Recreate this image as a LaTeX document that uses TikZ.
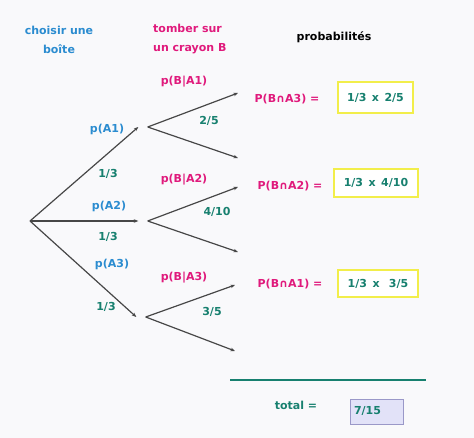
\documentclass[tikz,border=0pt]{standalone}
\usepackage{fontspec}
\setmainfont{DejaVu Sans}
\usetikzlibrary{arrows.meta, positioning}
\definecolor{boite}{HTML}{2B8CD0}
\definecolor{crayon}{HTML}{E01A7C}
\definecolor{valeur}{HTML}{17806F}
\definecolor{cadre}{HTML}{F2EE4A}
\definecolor{fond}{HTML}{F9F9FB}
\definecolor{totfill}{HTML}{E2E2F8}
\definecolor{totdraw}{HTML}{9A98C8}

\begin{document}
\begin{tikzpicture}[x=1pt, y=-1pt,
    lbl/.style={font=\fontsize{11}{19}\selectfont\bfseries, text=#1, inner sep=1pt},
    res/.style={draw=cadre, line width=1.3pt, fill=white, minimum width=#1, minimum height=28pt,
        font=\fontsize{11}{12}\selectfont\bfseries, text=valeur},
    arr/.style={-{Stealth[length=4.5pt, width=3.5pt]}, line width=1.2pt, black!72},
    pt/.style={inner sep=0pt, minimum width=9pt},
]

\useasboundingbox (0,0) rectangle (474,438);
\fill[fond] (0,0) rectangle (474,438);

% Headings
\node[lbl=boite, align=center] (hboite) at (59,40) {choisir une\\boîte};
\node[lbl=crayon, align=left, anchor=west] (hcrayon) at (152,39) {tomber sur\\un crayon B};
\node[lbl=black] (hproba) at (334,37) {probabilités};

% Tree points
\coordinate (root) at (30,221);
\node[pt] (a1) at (143,127) {};
\node[pt] (a2) at (143,221) {};
\node[pt] (a3) at (141,317) {};
\coordinate (b1h) at (238,93);
\coordinate (b1b) at (238,158);
\coordinate (b2h) at (238,187);
\coordinate (b2b) at (238,252);
\coordinate (b3h) at (235,285);
\coordinate (b3b) at (235,351);

% First level
\draw[arr] (root) -- (a1.west);
\draw[arr] (root) -- (a2.west);
\draw[arr] (root) -- (a3.west);

% Second level
\draw[arr] (a1.east) -- (b1h);
\draw[arr] (a1.east) -- (b1b);
\draw[arr] (a2.east) -- (b2h);
\draw[arr] (a2.east) -- (b2b);
\draw[arr] (a3.east) -- (b3h);
\draw[arr] (a3.east) -- (b3b);

% Box labels
\node[lbl=boite] (pa1) at (107,129) {p(A1)};
\node[lbl=valeur] (qa1) at (108,174) {1/3};
\node[lbl=boite] (pa2) at (109,206) {p(A2)};
\node[lbl=valeur] (qa2) at (108,237) {1/3};
\node[lbl=boite] (pa3) at (112,264) {p(A3)};
\node[lbl=valeur] (qa3) at (106,307) {1/3};

% Pencil labels
\node[lbl=crayon] (pb1) at (184,82) {p(B|A1)};
\node[lbl=valeur] (qb1) at (209,121) {2/5};
\node[lbl=crayon] (pb2) at (184,180) {p(B|A2)};
\node[lbl=valeur] (qb2) at (217,212) {4/10};
\node[lbl=crayon] (pb3) at (184,278) {p(B|A3)};
\node[lbl=valeur] (qb3) at (212,312) {3/5};

% Products
\node[lbl=crayon] (inter3) at (287,99) {P(B∩A3) =};
\node[res=75pt, minimum height=31pt] (prod3) at (375.5,97.5) {1/3\enspace x\enspace 2/5};
\node[lbl=crayon] (inter2) at (290,186) {P(B∩A2) =};
\node[res=84pt] (prod2) at (376,183) {1/3\enspace x\enspace 4/10};
\node[lbl=crayon] (inter1) at (290,284) {P(B∩A1) =};
\node[res=80pt, minimum height=27pt] (prod1) at (378,283.5) {1/3\enspace x\enspace\ 3/5};

% Total
\coordinate (trait1) at (230,380);
\coordinate (trait2) at (426,380);
\draw[valeur, line width=2pt] (trait1) -- (trait2);
\node[lbl=valeur] (total) at (296,405) {total =};
\node[draw=totdraw, fill=totfill, line width=0.8pt, minimum height=25pt, text width=46pt,
    align=left, font=\fontsize{11}{12}\selectfont\bfseries, text=valeur] (somme) at (377,411.5) {7/15};

\end{tikzpicture}
\end{document}
